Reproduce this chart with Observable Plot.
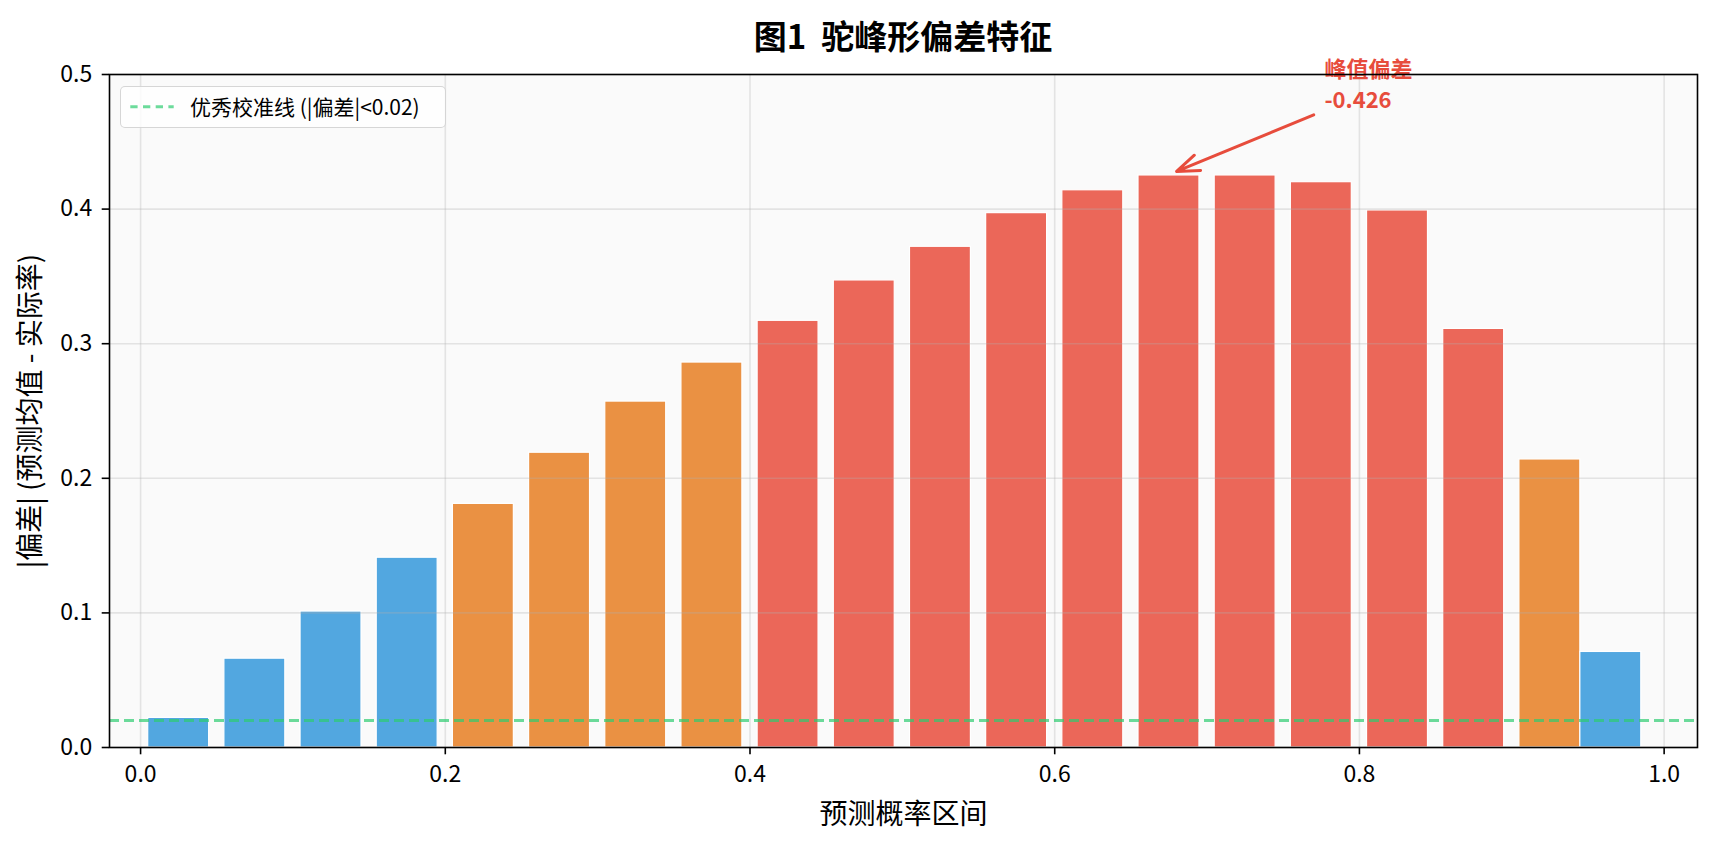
<!DOCTYPE html>
<html><head><meta charset="utf-8">
<script src="https://cdn.jsdelivr.net/npm/d3@7"></script>
<script src="https://cdn.jsdelivr.net/npm/@observablehq/plot@0.6"></script>
<style>
body{margin:0;background:#fff;font-family:"Noto Sans CJK SC","Noto Sans",sans-serif;}
#wrap{position:relative;width:1713px;height:849px;overflow:hidden;}
#title{height:60px;line-height:70px;box-sizing:border-box;padding-left:109px;padding-right:16px;text-align:center;font-size:33px;font-weight:bold;white-space:pre;color:#000;}
#legend{position:absolute;left:120px;top:86px;width:326px;height:42px;box-sizing:border-box;border:1.6px solid rgba(204,204,204,0.8);border-radius:5px;background:rgba(255,255,255,0.8);}
#legend svg{position:absolute;left:8px;top:0;}
#legend span{position:absolute;left:69px;top:0;line-height:39px;font-size:21px;color:#000;white-space:pre;}
</style></head><body>
<div id="wrap">
<div id="title">图1  驼峰形偏差特征</div>
<div id="chart"></div>
<div id="legend"><svg width="50" height="40"><line x1="1.3" x2="44.7" y1="19.7" y2="19.7" stroke="#2ecc71" stroke-opacity="0.7" stroke-width="3" stroke-dasharray="7.3,5.4"/></svg><span>优秀校准线 (|偏差|&lt;0.02)</span></div>
</div>
<script>
// ---- data ----
const binCenters = [0.025,0.075,0.125,0.175,0.225,0.275,0.325,0.375,0.425,0.475,
                    0.525,0.575,0.625,0.675,0.725,0.775,0.825,0.875,0.925,0.965];
const absBias = [0.022,0.066,0.101,0.141,0.181,0.219,0.257,0.286,0.317,0.347,
                 0.372,0.397,0.414,0.425,0.425,0.420,0.399,0.311,0.214,0.071];
const levelThresholds = [0.15, 0.30];
const levelColors = ["#3498db","#e67e22","#e74c3c"];
const excellentLine = [0.02];
const xTicks = [0,0.2,0.4,0.6,0.8,1.0];
const yTicks = [0,0.1,0.2,0.3,0.4,0.5];
const peakLines = ["峰值偏差", "-0.426"];
const peakLineY = [0.5035, 0.4800];  // text line centres (data units)
const peakTextX = 0.777;
const peakPoint = [0.68, 0.428];     // arrow head (data units)
const peakTail  = [0.770, 0.470];    // arrow tail (data units)
const xLabel = "预测概率区间";
const yLabel = "|偏差| (预测均值 - 实际率)";
const barWidth = 0.04;

const rows = binCenters.map((c,i)=>({
  x1: c - barWidth/2, x2: c + barWidth/2, v: absBias[i],
  color: absBias[i] < levelThresholds[0] ? levelColors[0] : (absBias[i] < levelThresholds[1] ? levelColors[1] : levelColors[2])
}));
const arrowRows = [{x1:peakTail[0], y1:peakTail[1], x2:peakPoint[0], y2:peakPoint[1]}];
const labelRows = peakLines.map((t,i)=>({x:peakTextX, y:peakLineY[i], t}));

const font = '"Noto Sans CJK SC","Noto Sans",sans-serif';
const chart = Plot.plot({
  width:1713, height:789,
  marginLeft:109, marginRight:16, marginTop:14, marginBottom:102,
  style:{fontFamily:font, background:"white", overflow:"visible", color:"#000"},
  x:{domain:[-0.0204,1.0219]},
  y:{domain:[0,0.5]},
  marks:[
    Plot.frame({fill:"#fafafa", stroke:null}),
    Plot.rectY(rows,{x1:"x1", x2:"x2", y1:0, y2:"v", fill:"color", fillOpacity:0.85, stroke:"white", strokeWidth:1.2, inset:0}),
    Plot.gridX(xTicks,{stroke:"#b0b0b0", strokeOpacity:0.3, strokeWidth:1.6}),
    Plot.gridY(yTicks,{stroke:"#b0b0b0", strokeOpacity:0.3, strokeWidth:1.6}),
    Plot.ruleY(excellentLine,{stroke:"#2ecc71", strokeOpacity:0.7, strokeWidth:3, strokeDasharray:"10,5"}),
    Plot.arrow(arrowRows,{x1:"x1", y1:"y1", x2:"x2", y2:"y2", stroke:"#e74c3c", strokeWidth:3, headLength:12, headAngle:40}),
    Plot.text(labelRows,{x:"x", y:"y", text:"t", textAnchor:"start", lineAnchor:"middle", fontSize:22, fontWeight:"bold", fill:"#e74c3c"}),
    Plot.frame({stroke:"black", strokeWidth:1.6}),
    Plot.axisX(xTicks,{tickSize:7.3, tickPadding:11, tickFormat:d3.format(".1f"), fontSize:23, strokeWidth:1.6, label:null}),
    Plot.axisY(yTicks,{tickSize:7.3, tickPadding:10, tickFormat:d3.format(".1f"), fontSize:23, strokeWidth:1.6, label:null}),
    Plot.text([xLabel],{frameAnchor:"bottom", dy:68, fontSize:28, textAnchor:"middle", lineAnchor:"middle", fill:"#000"}),
    Plot.text([yLabel],{frameAnchor:"left", dx:-78, rotate:-90, fontSize:28, textAnchor:"middle", lineAnchor:"middle", fill:"#000"})
  ]
});
document.getElementById("chart").appendChild(chart);
</script>
</body></html>
